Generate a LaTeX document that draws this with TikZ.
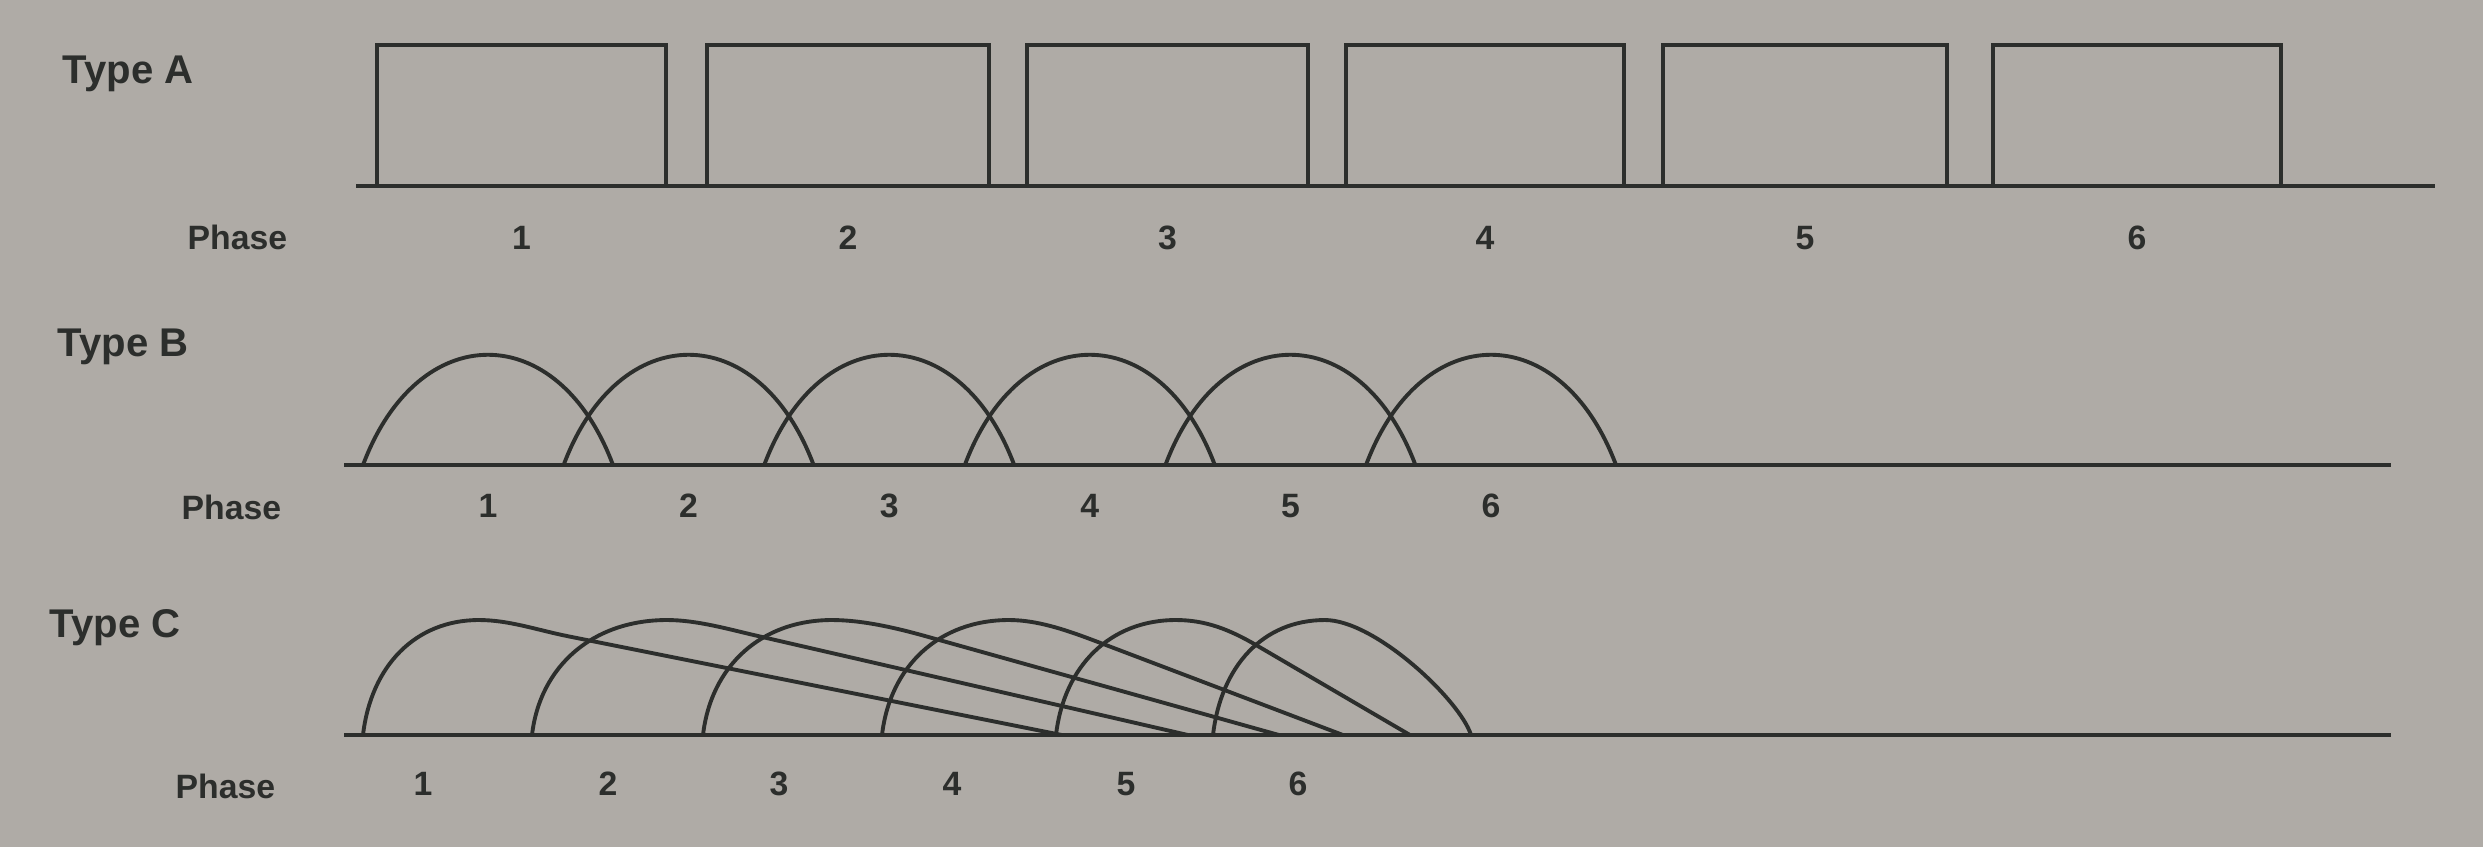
\documentclass[tikz,border=0pt]{standalone}
\usepackage{fontspec}
\setmainfont{Liberation Sans}
\usetikzlibrary{calc}

\definecolor{paper}{RGB}{175,171,166}
\definecolor{ink}{RGB}{44,46,44}

\tikzset{
  typelabel/.style={anchor=base west, inner sep=0pt, text=ink, font=\fontsize{11.4}{13}\selectfont\bfseries},
  phaselabel/.style={anchor=base west, inner sep=0pt, text=ink, font=\fontsize{9.6}{11}\selectfont\bfseries},
  phasenum/.style={anchor=base, inner sep=0pt, text=ink, font=\fontsize{9.6}{11}\selectfont\bfseries},
  axisline/.style={draw=ink, line width=1.3pt},
  pulse/.style={draw=ink, line width=0.9pt},
  wave/.style={draw=ink, line width=1.1pt}
}

\begin{document}
\begin{tikzpicture}[x=0.01cm, y=-0.01cm]
  \fill[paper] (0,0) rectangle (2483,847);
  \useasboundingbox (0,0) rectangle (2483,847);

  % Type A
  \node[typelabel] (typeA) at (62,83) {Type A};
  \node[phaselabel] (phaseA) at (187,249) {Phase};
  \foreach \l/\r [count=\i] in {377/666, 707/989, 1027/1308, 1346/1624, 1663/1947, 1993/2281} {
    \draw[pulse] (\l,186) -- (\l,45) -- (\r,45) -- (\r,186);
    \node[phasenum] (numA\i) at ({(\l+\r)/2},249) {\i};
  }
  \draw[axisline] (356,186) -- (2435,186);

  % Type B
  \node[typelabel] (typeB) at (57,356) {Type B};
  \node[phaselabel] (phaseB) at (181,519) {Phase};
  \foreach \i in {1,...,6} {
    \pgfmathsetmacro\sx{363+200.6*(\i-1)}
    \draw[wave] (\sx,465) .. controls (\sx+55,318) and (\sx+195,318) .. (\sx+250,465);
    \node[phasenum] (numB\i) at (\sx+125,517) {\i};
  }
  \draw[axisline] (344,465) -- (2391,465);

  % Type C
  \node[typelabel] (typeC) at (49,637) {Type C};
  \node[phaselabel] (phaseC) at (175,798) {Phase};
  \foreach \sx/\px/\tx/\ty/\ex [count=\i] in {363/479/567/636/1062, 532/667/758/636/1188, 703/832/925/636/1279, 882/1009/1098/642/1343, 1056/1176/1256/645/1410} {
    \coordinate (peakC\i) at (\px,620);
    \coordinate (bendC\i) at (\tx,\ty);
    \coordinate (endC\i) at (\ex,735);
    \draw[wave] (\sx,735) .. controls (\sx+8,666) and ({\px-0.55*(\px-\sx)},620) .. (peakC\i)
      .. controls (\px+30,620) and ($(bendC\i)!-0.3cm!(endC\i)$) .. (bendC\i) -- (endC\i);
  }
  \draw[wave] (1213,735) .. controls (1221,666) and (1263,620) .. (1325,620)
    .. controls (1375,620) and (1460,700) .. (1471,735);
  \foreach \nx [count=\i] in {423,608,779,952,1126,1298} {
    \node[phasenum] (numC\i) at (\nx,795) {\i};
  }
  \draw[axisline] (344,735) -- (2391,735);
\end{tikzpicture}
\end{document}
